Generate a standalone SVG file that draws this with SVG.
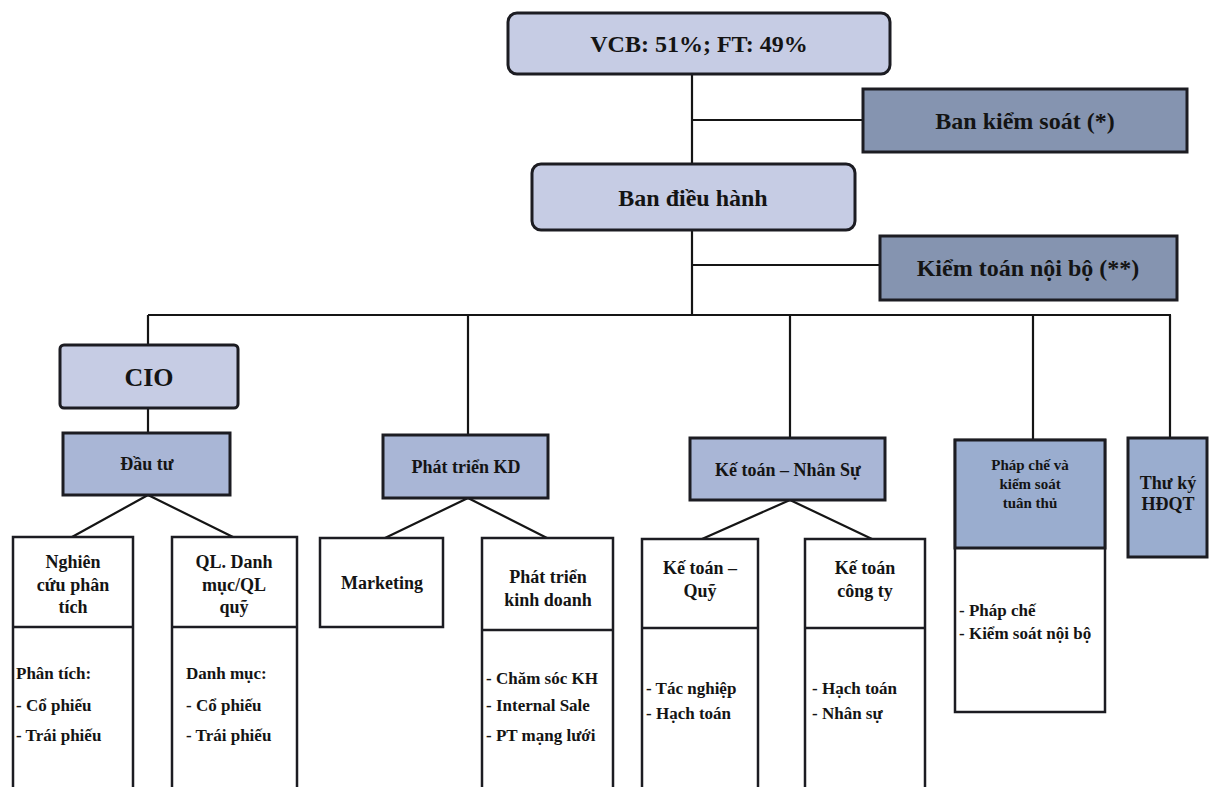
<svg xmlns="http://www.w3.org/2000/svg" width="1209" height="787" viewBox="0 0 1209 787">
<defs>
<style>
.l1{fill:#c6cce4;stroke:#1c1c22;stroke-width:3}
.l2{fill:#a9b6d6;stroke:#1c1c22;stroke-width:3}
.l3{fill:#9aadcf;stroke:#1c1c22;stroke-width:3}
.dk{fill:#8594b0;stroke:#1c1c22;stroke-width:3}
.wb{fill:#ffffff;stroke:#1c1c22;stroke-width:2.5}
.dv{stroke:#1c1c22;stroke-width:2.5;fill:none}
.cn{stroke:#151515;stroke-width:2.2;fill:none}
text{font-family:"Liberation Serif","Times New Roman",serif;font-weight:bold;fill:#141414}
.c{text-anchor:middle}
.t24{font-size:24px}
.t26{font-size:26px}
.t18{font-size:18px}
.t17{font-size:17px}
.t15{font-size:15px}
</style>
</defs>
<rect width="1209" height="787" fill="#ffffff"/>
<g id="connectors">
<path class="cn" d="M692 74V164M692 230V315M692 120H863M692 265H880"/>
<path class="cn" d="M148 315H1171M148 315V345M468 315V435M790 315V438M1033 315V440M1170 315V438"/>
<path class="cn" d="M148 408V433"/>
<path class="cn" d="M148 495L72 537M148 495L233 537"/>
<path class="cn" d="M468 498L385 538M468 498L547 538"/>
<path class="cn" d="M790 500L702 539M790 500L872 539"/>
</g>
<g id="vcb">
<rect class="l1" x="508" y="13" width="382" height="61" rx="9"/>
<text class="c t24" x="699" y="52">VCB: 51%; FT: 49%</text>
</g>
<g id="ban-kiem-soat">
<rect class="dk" x="863" y="89" width="324" height="63"/>
<text class="c t24" x="1025" y="129">Ban kiểm soát (*)</text>
</g>
<g id="ban-dieu-hanh">
<rect class="l1" x="532" y="164" width="323" height="66" rx="9"/>
<text class="c t24" x="693" y="206">Ban điều hành</text>
</g>
<g id="kiem-toan-noi-bo">
<rect class="dk" x="880" y="236" width="297" height="64"/>
<text class="c t24" x="1028" y="276">Kiểm toán nội bộ (**)</text>
</g>
<g id="cio">
<rect class="l1" x="60" y="345" width="178" height="63" rx="4"/>
<text class="c t26" x="149" y="386">CIO</text>
</g>
<g id="dau-tu">
<rect class="l2" x="63" y="433" width="167" height="62"/>
<text class="c t18" x="147" y="470">Đầu tư</text>
</g>
<g id="nghien-cuu">
<rect class="wb" x="13" y="537" width="120" height="270"/>
<path class="dv" d="M13 627H133"/>
<text class="c t18" x="73"><tspan x="73" y="568">Nghiên</tspan><tspan x="73" y="591">cứu phân</tspan><tspan x="73" y="613">tích</tspan></text>
<text class="t17"><tspan x="16" y="679">Phân tích:</tspan><tspan x="16" y="711">- Cổ phiếu</tspan><tspan x="16" y="741">- Trái phiếu</tspan></text>
</g>
<g id="ql-danh-muc">
<rect class="wb" x="172" y="537" width="125" height="270"/>
<path class="dv" d="M172 627H297"/>
<text class="c t18" x="234"><tspan x="234" y="568">QL. Danh</tspan><tspan x="234" y="591">mục/QL</tspan><tspan x="234" y="613">quỹ</tspan></text>
<text class="t17"><tspan x="186" y="679">Danh mục:</tspan><tspan x="186" y="711">- Cổ phiếu</tspan><tspan x="186" y="741">- Trái phiếu</tspan></text>
</g>
<g id="phat-trien-kd">
<rect class="l2" x="383" y="435" width="165" height="63"/>
<text class="c t18" x="466" y="473">Phát triển KD</text>
</g>
<g id="marketing">
<rect class="wb" x="320" y="538" width="123" height="89"/>
<text class="c t18" x="382" y="589">Marketing</text>
</g>
<g id="phat-trien-kinh-doanh">
<rect class="wb" x="482" y="538" width="131" height="270"/>
<path class="dv" d="M482 630H613"/>
<text class="c t18" x="548"><tspan x="548" y="583">Phát triển</tspan><tspan x="548" y="606">kinh doanh</tspan></text>
<text class="t17"><tspan x="486" y="684">- Chăm sóc KH</tspan><tspan x="486" y="711">- Internal Sale</tspan><tspan x="486" y="741">- PT mạng lưới</tspan></text>
</g>
<g id="ke-toan-nhan-su">
<rect class="l2" x="690" y="438" width="195" height="62"/>
<text class="c t18" x="788" y="476">Kế toán – Nhân Sự</text>
</g>
<g id="ke-toan-quy">
<rect class="wb" x="642" y="539" width="116" height="270"/>
<path class="dv" d="M642 628H758"/>
<text class="c t18" x="700"><tspan x="700" y="574">Kế toán –</tspan><tspan x="700" y="597">Quỹ</tspan></text>
<text class="t17"><tspan x="646" y="694">- Tác nghiệp</tspan><tspan x="646" y="719">- Hạch toán</tspan></text>
</g>
<g id="ke-toan-cong-ty">
<rect class="wb" x="805" y="539" width="120" height="270"/>
<path class="dv" d="M805 628H925"/>
<text class="c t18" x="865"><tspan x="865" y="574">Kế toán</tspan><tspan x="865" y="597">công ty</tspan></text>
<text class="t17"><tspan x="812" y="694">- Hạch toán</tspan><tspan x="812" y="719">- Nhân sự</tspan></text>
</g>
<g id="phap-che">
<rect class="wb" x="955" y="440" width="150" height="272"/>
<rect class="l3" x="955" y="440" width="150" height="108"/>
<text class="c t15" x="1030"><tspan x="1030" y="470">Pháp chế và</tspan><tspan x="1030" y="489">kiểm soát</tspan><tspan x="1030" y="508">tuân thủ</tspan></text>
<text class="t17"><tspan x="959" y="616">- Pháp chế</tspan><tspan x="959" y="639">- Kiểm soát nội bộ</tspan></text>
</g>
<g id="thu-ky-hdqt">
<rect class="l3" x="1128" y="438" width="79" height="119"/>
<text class="c t18" x="1168"><tspan x="1168" y="489">Thư ký</tspan><tspan x="1168" y="510">HĐQT</tspan></text>
</g>
</svg>
